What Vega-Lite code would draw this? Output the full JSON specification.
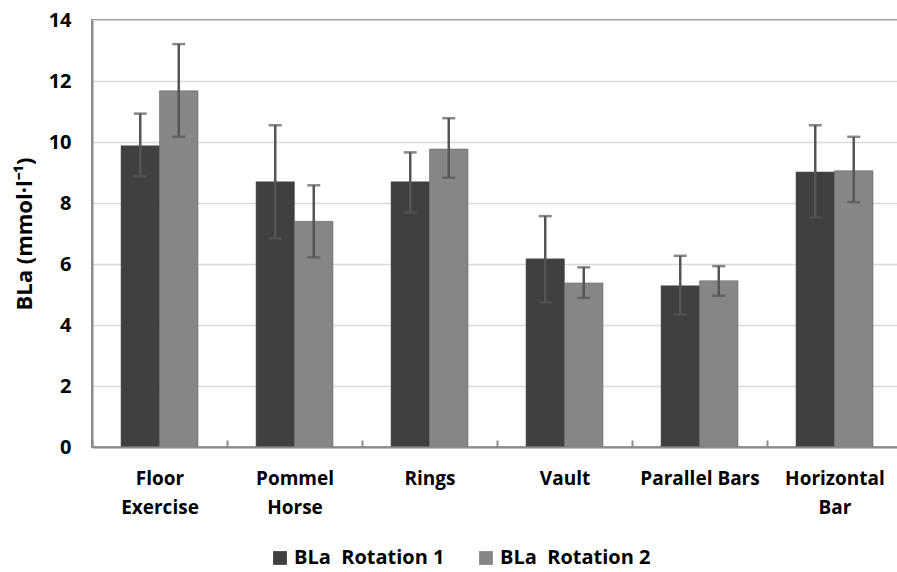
{
  "$schema": "https://vega.github.io/schema/vega-lite/v6.json",
  "autosize": "none",
  "padding": {"left": 92, "top": 20, "right": 0, "bottom": 125},
  "width": 810,
  "height": 427,
  "background": "white",
  "config": {
    "font": "Open Sans",
    "view": {"stroke": "#8c8c8c", "strokeWidth": 2},
    "axis": {"labelFont": "Open Sans", "titleFont": "Open Sans", "labelFontWeight": "bold", "titleFontWeight": "bold", "labelColor": "black", "titleColor": "black"}
  },
  "data": {
    "values": [
      {"event": "Floor Exercise", "rotation": "BLa\u00a0 Rotation 1", "mean": 9.88, "lower": 8.87, "upper": 10.93},
      {"event": "Floor Exercise", "rotation": "BLa\u00a0 Rotation 2", "mean": 11.68, "lower": 10.17, "upper": 13.21},
      {"event": "Pommel Horse", "rotation": "BLa\u00a0 Rotation 1", "mean": 8.70, "lower": 6.84, "upper": 10.55},
      {"event": "Pommel Horse", "rotation": "BLa\u00a0 Rotation 2", "mean": 7.40, "lower": 6.22, "upper": 8.58},
      {"event": "Rings", "rotation": "BLa\u00a0 Rotation 1", "mean": 8.70, "lower": 7.69, "upper": 9.66},
      {"event": "Rings", "rotation": "BLa\u00a0 Rotation 2", "mean": 9.77, "lower": 8.83, "upper": 10.78},
      {"event": "Vault", "rotation": "BLa\u00a0 Rotation 1", "mean": 6.17, "lower": 4.74, "upper": 7.57},
      {"event": "Vault", "rotation": "BLa\u00a0 Rotation 2", "mean": 5.38, "lower": 4.89, "upper": 5.89},
      {"event": "Parallel Bars", "rotation": "BLa\u00a0 Rotation 1", "mean": 5.29, "lower": 4.34, "upper": 6.27},
      {"event": "Parallel Bars", "rotation": "BLa\u00a0 Rotation 2", "mean": 5.45, "lower": 4.96, "upper": 5.93},
      {"event": "Horizontal Bar", "rotation": "BLa\u00a0 Rotation 1", "mean": 9.02, "lower": 7.53, "upper": 10.55},
      {"event": "Horizontal Bar", "rotation": "BLa\u00a0 Rotation 2", "mean": 9.06, "lower": 8.03, "upper": 10.17}
    ]
  },
  "encoding": {
    "x": {
      "field": "event", "type": "nominal", "sort": null,
      "scale": {"paddingInner": 0, "paddingOuter": 0},
      "axis": {
        "title": null, "labelAngle": 0, "labelFontSize": 19, "labelLineHeight": 29,
        "labelPadding": 29, "ticks": true, "tickBand": "extent", "tickSize": -7, "tickColor": "#8c8c8c", "tickWidth": 2,
        "domainColor": "#8c8c8c", "domainWidth": 2, "grid": false, "zindex": 1,
        "labelExpr": "datum.label == 'Floor Exercise' ? ['Floor', 'Exercise'] : datum.label == 'Pommel Horse' ? ['Pommel', 'Horse'] : datum.label == 'Horizontal Bar' ? ['Horizontal', 'Bar'] : datum.label"
      }
    },
    "xOffset": {"field": "rotation", "type": "nominal", "scale": {"paddingInner": 0, "paddingOuter": 0.753}}
  },
  "layer": [
    {
      "mark": {"type": "bar", "stroke": "#5a5a5a", "strokeWidth": 0.5},
      "encoding": {
        "y": {
          "field": "mean", "type": "quantitative",
          "scale": {"domain": [0, 14], "nice": false},
          "axis": {
            "values": [0, 2, 4, 6, 8, 10, 12, 14], "title": "BLa (mmol·l⁻¹)", "titleFontSize": 22,
            "titlePadding": 12, "labelFontSize": 20, "labelPadding": 21, "ticks": false,
            "grid": true, "gridColor": "#d9d9d9", "gridWidth": 1.5,
            "domainColor": "#8c8c8c", "domainWidth": 2
          }
        },
        "color": {
          "field": "rotation", "type": "nominal",
          "scale": {"range": ["#404040", "#868686"]},
          "legend": {
            "title": null, "orient": "none", "direction": "horizontal", "legendX": 178, "legendY": 528,
            "symbolType": "square", "symbolSize": 190, "symbolStrokeWidth": 0, "labelFontSize": 20,
            "labelFontWeight": "bold", "labelColor": "black", "labelFont": "Open Sans", "columnPadding": 31, "labelOffset": 4
          }
        }
      }
    },
    {
      "mark": {"type": "rule", "color": "#555555", "strokeWidth": 2.5},
      "encoding": {
        "y": {"field": "lower", "type": "quantitative"},
        "y2": {"field": "upper"}
      }
    },
    {
      "mark": {"type": "tick", "color": "#555555", "thickness": 2.5, "size": 13, "orient": "horizontal"},
      "encoding": {"y": {"field": "upper", "type": "quantitative"}}
    },
    {
      "mark": {"type": "tick", "color": "#555555", "thickness": 2.5, "size": 13, "orient": "horizontal"},
      "encoding": {"y": {"field": "lower", "type": "quantitative"}}
    }
  ]
}
